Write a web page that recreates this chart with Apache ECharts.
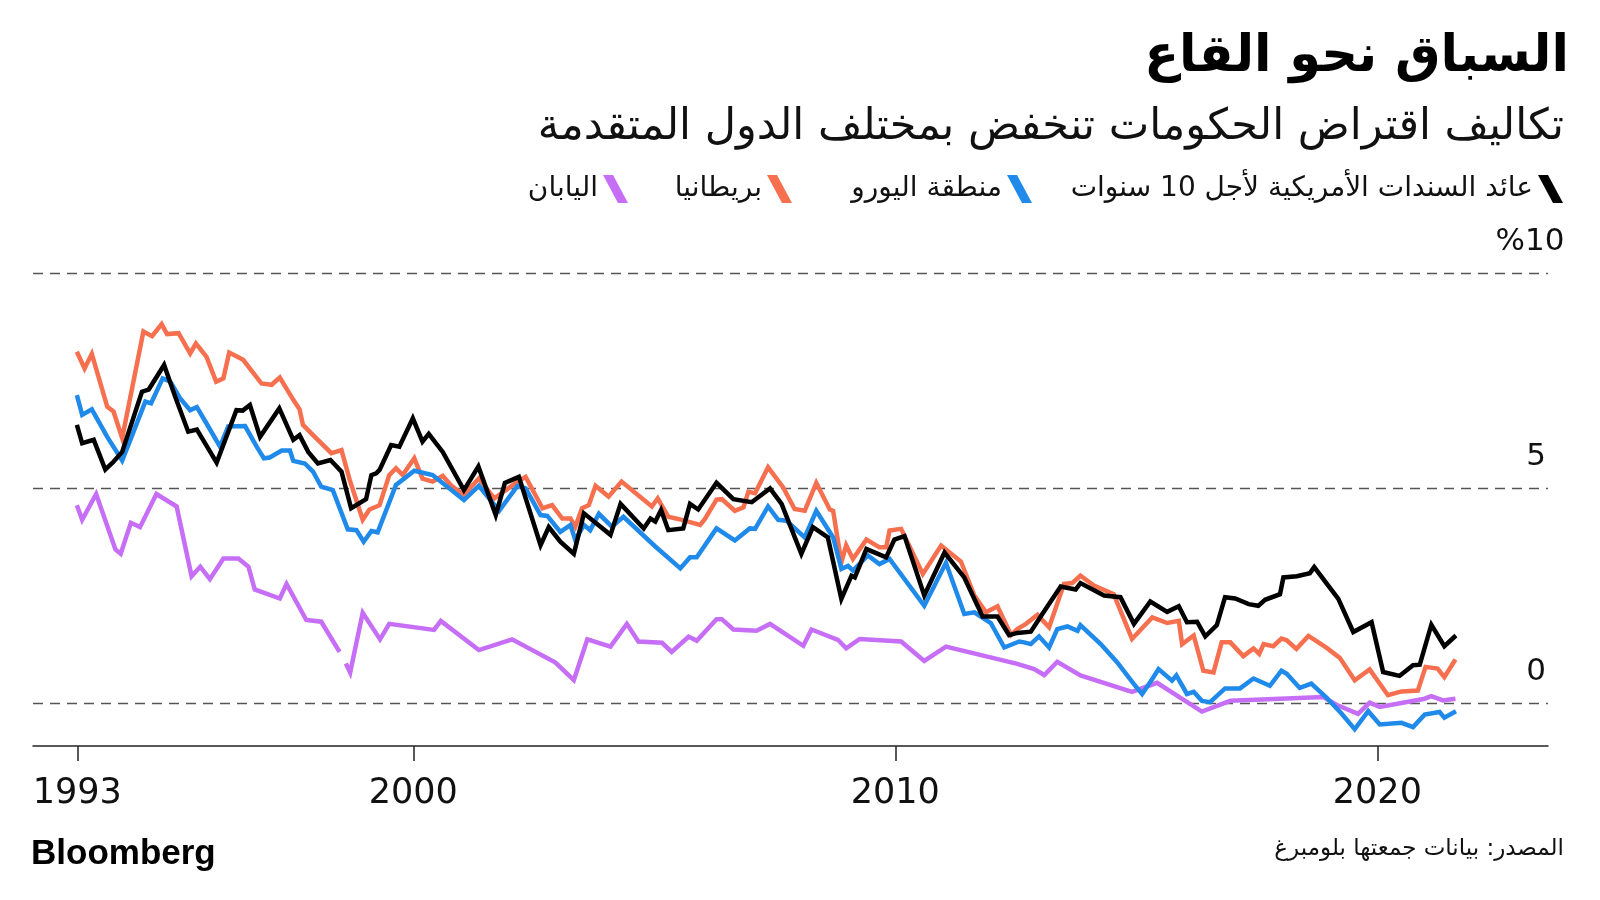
<!DOCTYPE html>
<html>
<head>
<meta charset="utf-8">
<script src="https://cdn.jsdelivr.net/npm/echarts@6/dist/echarts.min.js"></script>
<style>
html,body{margin:0;padding:0;background:#fff;}
#chart{width:1600px;height:900px;}
</style>
</head>
<body>
<div id="chart"></div>
<script>
// ---- Data (year, yield %) ----
const seriesNames = ['عائد السندات الأمريكية لأجل 10 سنوات', 'منطقة اليورو', 'بريطانيا', 'اليابان'];
const xTickYears = [1993, 2000, 2010, 2020];
const yTickValues = [0, 5, 10];
const yTickLabels = ['0', '5', '%10'];

const usYield = [
[1993.02,6.47],[1993.13,6.04],[1993.37,6.12],[1993.61,5.43],[1993.78,5.61],[1993.96,5.84],[1994.37,7.24],[1994.51,7.29],[1994.83,7.86],[1995.06,7.12],[1995.33,6.31],[1995.51,6.36],[1995.92,5.59],[1996.33,6.81],[1996.46,6.80],[1996.61,6.93],[1996.82,6.19],[1997.22,6.85],[1997.51,6.12],[1997.64,6.23],[1997.82,5.84],[1998.02,5.57],[1998.28,5.65],[1998.51,5.38],[1998.71,4.53],[1999.02,4.74],[1999.13,5.30],[1999.23,5.34],
[1999.30,5.42],[1999.54,6.00],[1999.71,5.96],[1999.99,6.62],[2000.19,6.08],[2000.32,6.26],[2000.61,5.84],[2001.05,4.95],[2001.35,5.50],[2001.71,4.37],[2001.90,5.12],[2002.19,5.26],[2002.64,3.67],[2002.81,4.09],[2003.05,3.75],[2003.33,3.47],[2003.54,4.41],[2004.09,3.91],[2004.30,4.63],[2004.78,4.06],[2004.92,4.29],[2005.02,4.22],[2005.14,4.49],[2005.29,4.02],[2005.60,4.06],[2005.74,4.63],[2005.91,4.50],
[2006.29,5.12],[2006.64,4.74],[2007.02,4.67],[2007.40,4.99],[2007.64,4.63],[2008.05,3.47],[2008.29,4.09],[2008.60,3.85],[2008.88,2.42],[2009.09,2.96],[2009.16,2.92],[2009.40,3.58],[2009.81,3.39],[2009.98,3.80],[2010.19,3.88],[2010.60,2.50],[2011.02,3.50],[2011.43,2.92],[2011.81,2.01],[2012.12,2.01],[2012.36,1.58],
[2012.53,1.63],[2012.81,1.66],[2013.05,2.07],[2013.43,2.71],[2013.74,2.64],[2013.84,2.79],[2014.33,2.50],[2014.67,2.46],[2014.95,1.84],[2015.29,2.36],[2015.64,2.12],[2015.88,2.25],[2016.05,1.88],[2016.26,1.89],[2016.43,1.55],[2016.67,1.81],[2016.84,2.46],[2017.05,2.43],[2017.33,2.30],[2017.53,2.26],[2017.67,2.40],[2017.98,2.53],[2018.05,2.92],[2018.33,2.95],[2018.60,3.02],[2018.69,3.16],[2019.19,2.42],[2019.50,1.65],[2019.88,1.88],[2020.12,0.72],[2020.46,0.63],[2020.74,0.88],[2020.88,0.89],[2021.12,1.82],[2021.39,1.32],[2021.63,1.57]
];

const euroYield = [
[1993.02,7.16],[1993.13,6.70],[1993.33,6.83],[1993.65,6.19],[1993.96,5.64],[1994.13,6.12],[1994.44,7.01],[1994.56,6.97],[1994.80,7.55],[1994.96,7.47],[1995.16,7.09],[1995.37,6.81],[1995.51,6.88],[1995.71,6.50],[1995.99,5.96],[1996.16,6.43],[1996.51,6.44],[1996.75,5.96],[1996.90,5.69],[1997.02,5.71],[1997.27,5.87],[1997.44,5.87],[1997.51,5.63],[1997.75,5.57],[1997.92,5.38],[1998.09,5.03],[1998.33,4.95],[1998.64,4.04],[1998.82,4.02],[1998.97,3.75],[1999.13,4.00],[1999.26,3.97],
[1999.64,5.07],[2000.02,5.40],[2000.40,5.30],[2001.05,4.72],[2001.36,5.05],[2001.78,4.47],[2002.16,5.05],[2002.33,4.99],[2002.64,4.37],[2002.78,4.35],[2003.05,3.98],[2003.26,4.14],[2003.36,3.79],[2003.54,4.14],[2003.67,4.02],[2003.85,4.40],[2004.12,4.10],[2004.36,4.33],[2005.02,3.64],[2005.54,3.13],[2005.74,3.39],[2005.88,3.39],
[2006.29,4.06],[2006.67,3.78],[2006.98,4.06],[2007.09,4.05],[2007.36,4.57],[2007.57,4.26],[2007.74,4.24],[2008.12,3.85],[2008.36,4.47],[2008.71,3.85],[2008.88,3.12],[2009.02,3.19],[2009.12,3.08],[2009.43,3.43],[2009.67,3.23],[2009.88,3.35],[2010.60,2.26],[2011.05,3.26],[2011.43,2.07],[2011.64,2.11],[2011.98,1.86],[2012.26,1.29],[2012.57,1.43],
[2012.67,1.41],[2012.81,1.37],[2012.98,1.55],[2013.19,1.29],[2013.36,1.72],[2013.57,1.78],[2013.78,1.68],[2013.84,1.81],[2014.26,1.37],[2014.60,0.95],[2014.95,0.44],[2015.12,0.21],[2015.33,0.56],[2015.46,0.79],[2015.74,0.52],[2015.83,0.64],[2016.05,0.21],[2016.19,0.26],[2016.36,0.05],[2016.53,0.02],[2016.84,0.34],[2017.15,0.34],[2017.43,0.57],[2017.77,0.40],[2018.01,0.75],[2018.12,0.68],[2018.39,0.35],[2018.63,0.45],[2018.95,0.12],[2019.26,-0.25],[2019.53,-0.61],[2019.81,-0.19],[2020.05,-0.50],[2020.50,-0.46],[2020.74,-0.56],[2020.98,-0.27],[2021.29,-0.21],[2021.39,-0.34],[2021.63,-0.19]
];

const ukYield = [
[1993.02,8.17],[1993.18,7.78],[1993.33,8.12],[1993.65,6.89],[1993.78,6.78],[1993.96,6.16],[1994.40,8.64],[1994.58,8.53],[1994.78,8.81],[1994.89,8.58],[1995.13,8.60],[1995.37,8.13],[1995.49,8.36],[1995.71,8.05],[1995.91,7.47],[1996.06,7.55],[1996.18,8.15],[1996.47,7.98],[1996.85,7.43],[1997.06,7.40],[1997.23,7.57],[1997.51,7.05],[1997.64,6.83],[1997.71,6.47],[1997.92,6.23],[1998.30,5.81],[1998.51,5.88],[1998.68,5.19],[1998.95,4.26],[1999.09,4.50],
[1999.30,4.60],[1999.50,5.30],[1999.64,5.46],[1999.78,5.30],[2000.02,5.69],[2000.19,5.22],[2000.40,5.15],[2000.61,5.28],[2000.81,5.03],[2001.05,4.84],[2001.36,5.22],[2001.68,4.76],[2001.92,4.95],[2002.16,5.15],[2002.33,5.26],[2002.68,4.53],[2002.88,4.60],[2003.09,4.29],[2003.26,4.29],[2003.36,4.10],[2003.50,4.53],[2003.64,4.60],[2003.78,5.05],[2004.05,4.80],[2004.32,5.15],[2004.95,4.57],[2005.07,4.76],[2005.29,4.33],[2005.57,4.26],[2005.95,4.14],
[2006.05,4.28],[2006.29,4.73],[2006.40,4.74],[2006.67,4.47],[2006.85,4.55],[2006.95,4.91],[2007.09,4.88],[2007.36,5.48],[2007.67,5.02],[2007.91,4.51],[2008.12,4.47],[2008.36,5.12],[2008.64,4.50],[2008.71,4.47],[2008.88,3.27],[2008.98,3.67],[2009.12,3.35],[2009.40,3.80],[2009.67,3.62],[2009.81,3.62],[2009.88,4.01],[2010.12,4.05],[2010.57,3.00],[2010.95,3.66],[2011.36,3.29],[2011.64,2.50],[2011.88,2.11],[2012.12,2.25],[2012.40,1.58],
[2012.53,1.72],[2012.71,1.84],[2012.95,2.05],[2013.19,1.76],[2013.50,2.77],[2013.67,2.79],[2013.84,2.96],[2014.12,2.73],[2014.53,2.53],[2014.91,1.49],[2015.33,1.99],[2015.64,1.86],[2015.88,1.91],[2015.95,1.37],[2016.19,1.57],[2016.39,0.75],[2016.60,0.71],[2016.77,1.41],[2016.95,1.41],[2017.22,1.09],[2017.43,1.27],[2017.55,1.14],[2017.64,1.37],[2017.84,1.32],[2018.01,1.50],[2018.12,1.46],[2018.32,1.26],[2018.57,1.56],[2018.95,1.28],[2019.22,1.05],[2019.53,0.53],[2019.84,0.78],[2020.22,0.18],[2020.50,0.27],[2020.84,0.29],[2021.00,0.84],[2021.25,0.80],[2021.39,0.60],[2021.62,1.01]
];

const japanYield = [
[1993.02,4.60],[1993.13,4.26],[1993.42,4.86],[1993.82,3.57],[1993.93,3.47],[1994.14,4.19],[1994.33,4.09],[1994.67,4.86],[1995.09,4.57],[1995.40,2.95],[1995.58,3.17],[1995.78,2.88],[1996.06,3.36],[1996.37,3.36],[1996.58,3.17],[1996.71,2.64],[1997.23,2.43],[1997.37,2.77],[1997.78,1.93],[1998.09,1.89],[1998.47,1.19],[1998.53,null],[1998.60,0.92],[1998.69,0.71],[1998.95,2.10],[1999.31,1.48],
[1999.50,1.84],[2000.43,1.70],[2000.57,1.91],[2001.36,1.23],[2002.05,1.48],[2002.95,0.94],[2003.33,0.53],[2003.61,1.48],[2004.09,1.31],[2004.43,1.84],[2004.67,1.43],[2005.16,1.40],[2005.36,1.19],[2005.71,1.54],[2005.88,1.45],
[2006.29,1.95],[2006.40,1.95],[2006.64,1.71],[2007.12,1.68],[2007.40,1.84],[2008.09,1.33],[2008.26,1.71],[2008.81,1.47],[2008.98,1.27],[2009.26,1.49],[2010.12,1.43],[2010.60,0.98],[2011.05,1.31],
[2012.53,0.91],[2012.88,0.79],[2013.09,0.65],[2013.36,0.96],[2013.84,0.64],[2014.91,0.26],[2015.43,0.47],[2016.36,-0.20],[2016.95,0.05],[2018.88,0.14],[2019.15,-0.04],[2019.60,-0.25],[2019.84,0.01],[2020.05,-0.09],[2020.98,0.10],[2021.12,0.16],[2021.36,0.06],[2021.62,0.10]
];

const seriesData = [usYield, euroYield, ukYield, japanYield];
const seriesColors = ['#000000', '#1f8ae9', '#f6704f', '#c66ef6'];
const drawOrder = [3, 2, 1, 0];

const ARABIC = "'DejaVu Sans', sans-serif";
const ICON = 'path://M0,0 L10,0 L25,28 L15,28 Z';
const xTickPositions = [1993.03, 2000, 2010, 2020];
const legendRight = [32, 563, 803, 967];

const chart = echarts.init(document.getElementById('chart'), null, {renderer: 'canvas'});

const series = drawOrder.map(i => ({
  name: seriesNames[i],
  type: 'line',
  data: seriesData[i],
  showSymbol: false,
  symbol: 'none',
  connectNulls: false,
  lineStyle: {color: seriesColors[i], width: 4.5, join: 'miter'},
  itemStyle: {color: seriesColors[i]},
  z: 10 - i,
  animation: false
}));

const legends = seriesNames.map((n, i) => ({
  data: [{name: n, icon: ICON}],
  right: legendRight[i],
  top: 170,
  align: 'right',
  itemWidth: 25,
  itemHeight: 28,
  selectedMode: false,
  textStyle: {fontFamily: ARABIC, fontSize: 28, color: '#111'}
}));

const option = {
  animation: false,
  backgroundColor: '#ffffff',
  grid: {left: 33, right: 52, top: 273, bottom: 154, containLabel: false},
  legend: legends,
  xAxis: {
    type: 'value',
    min: 1992.11,
    max: 2023.54,
    axisLine: {show: true, onZero: false, lineStyle: {color: '#222', width: 1.5}},
    axisTick: {show: true, customValues: xTickPositions, length: 15, lineStyle: {color: '#222', width: 1.5}},
    axisLabel: {
      customValues: xTickPositions,
      formatter: v => String(xTickYears[xTickPositions.indexOf(v)] || Math.round(v)),
      fontFamily: "'DejaVu Sans', sans-serif",
      fontSize: 35,
      color: '#111',
      margin: 30
    },
    splitLine: {show: false}
  },
  yAxis: {
    type: 'value',
    position: 'right',
    min: -1,
    max: 10,
    axisLine: {show: false},
    axisTick: {show: false, customValues: yTickValues},
    axisLabel: {
      customValues: yTickValues,
      formatter: v => (v === 10 ? '{p|' + yTickLabels[2] + '}' : (yTickLabels[yTickValues.indexOf(v)] || '')),
      align: 'center',
      verticalAlign: 'bottom',
      margin: -12,
      padding: [0, 0, 16, 0],
      fontFamily: "'DejaVu Sans', sans-serif",
      fontSize: 31,
      color: '#111',
      rich: {p: {fontFamily: "'DejaVu Sans', sans-serif", fontSize: 31, color: '#111', padding: [0, 12, 0, 0]}}
    },
    splitLine: {show: true, lineStyle: {color: '#555', width: 1.3, type: [10, 7]}}
  },
  graphic: [
    {type: 'text', right: 31, top: 32, style: {text: 'السباق نحو القاع', font: "bold 51px 'DejaVu Sans', sans-serif", fill: '#000', textAlign: 'right'}},
    {type: 'text', right: 36, top: 106, style: {text: 'تكاليف اقتراض الحكومات تنخفض بمختلف الدول المتقدمة', font: "43px 'DejaVu Sans', sans-serif", fill: '#111', textAlign: 'right'}},
    {type: 'text', left: 31, top: 837, style: {text: 'Bloomberg', font: "bold 35px 'Liberation Sans', Arial, sans-serif", fill: '#000'}},
    {type: 'text', right: 36, top: 838, style: {text: 'المصدر: بيانات جمعتها بلومبرغ', font: "23px 'DejaVu Sans', sans-serif", fill: '#111', textAlign: 'right'}}
  ],
  series: series
};

chart.setOption(option);
</script>
</body>
</html>
